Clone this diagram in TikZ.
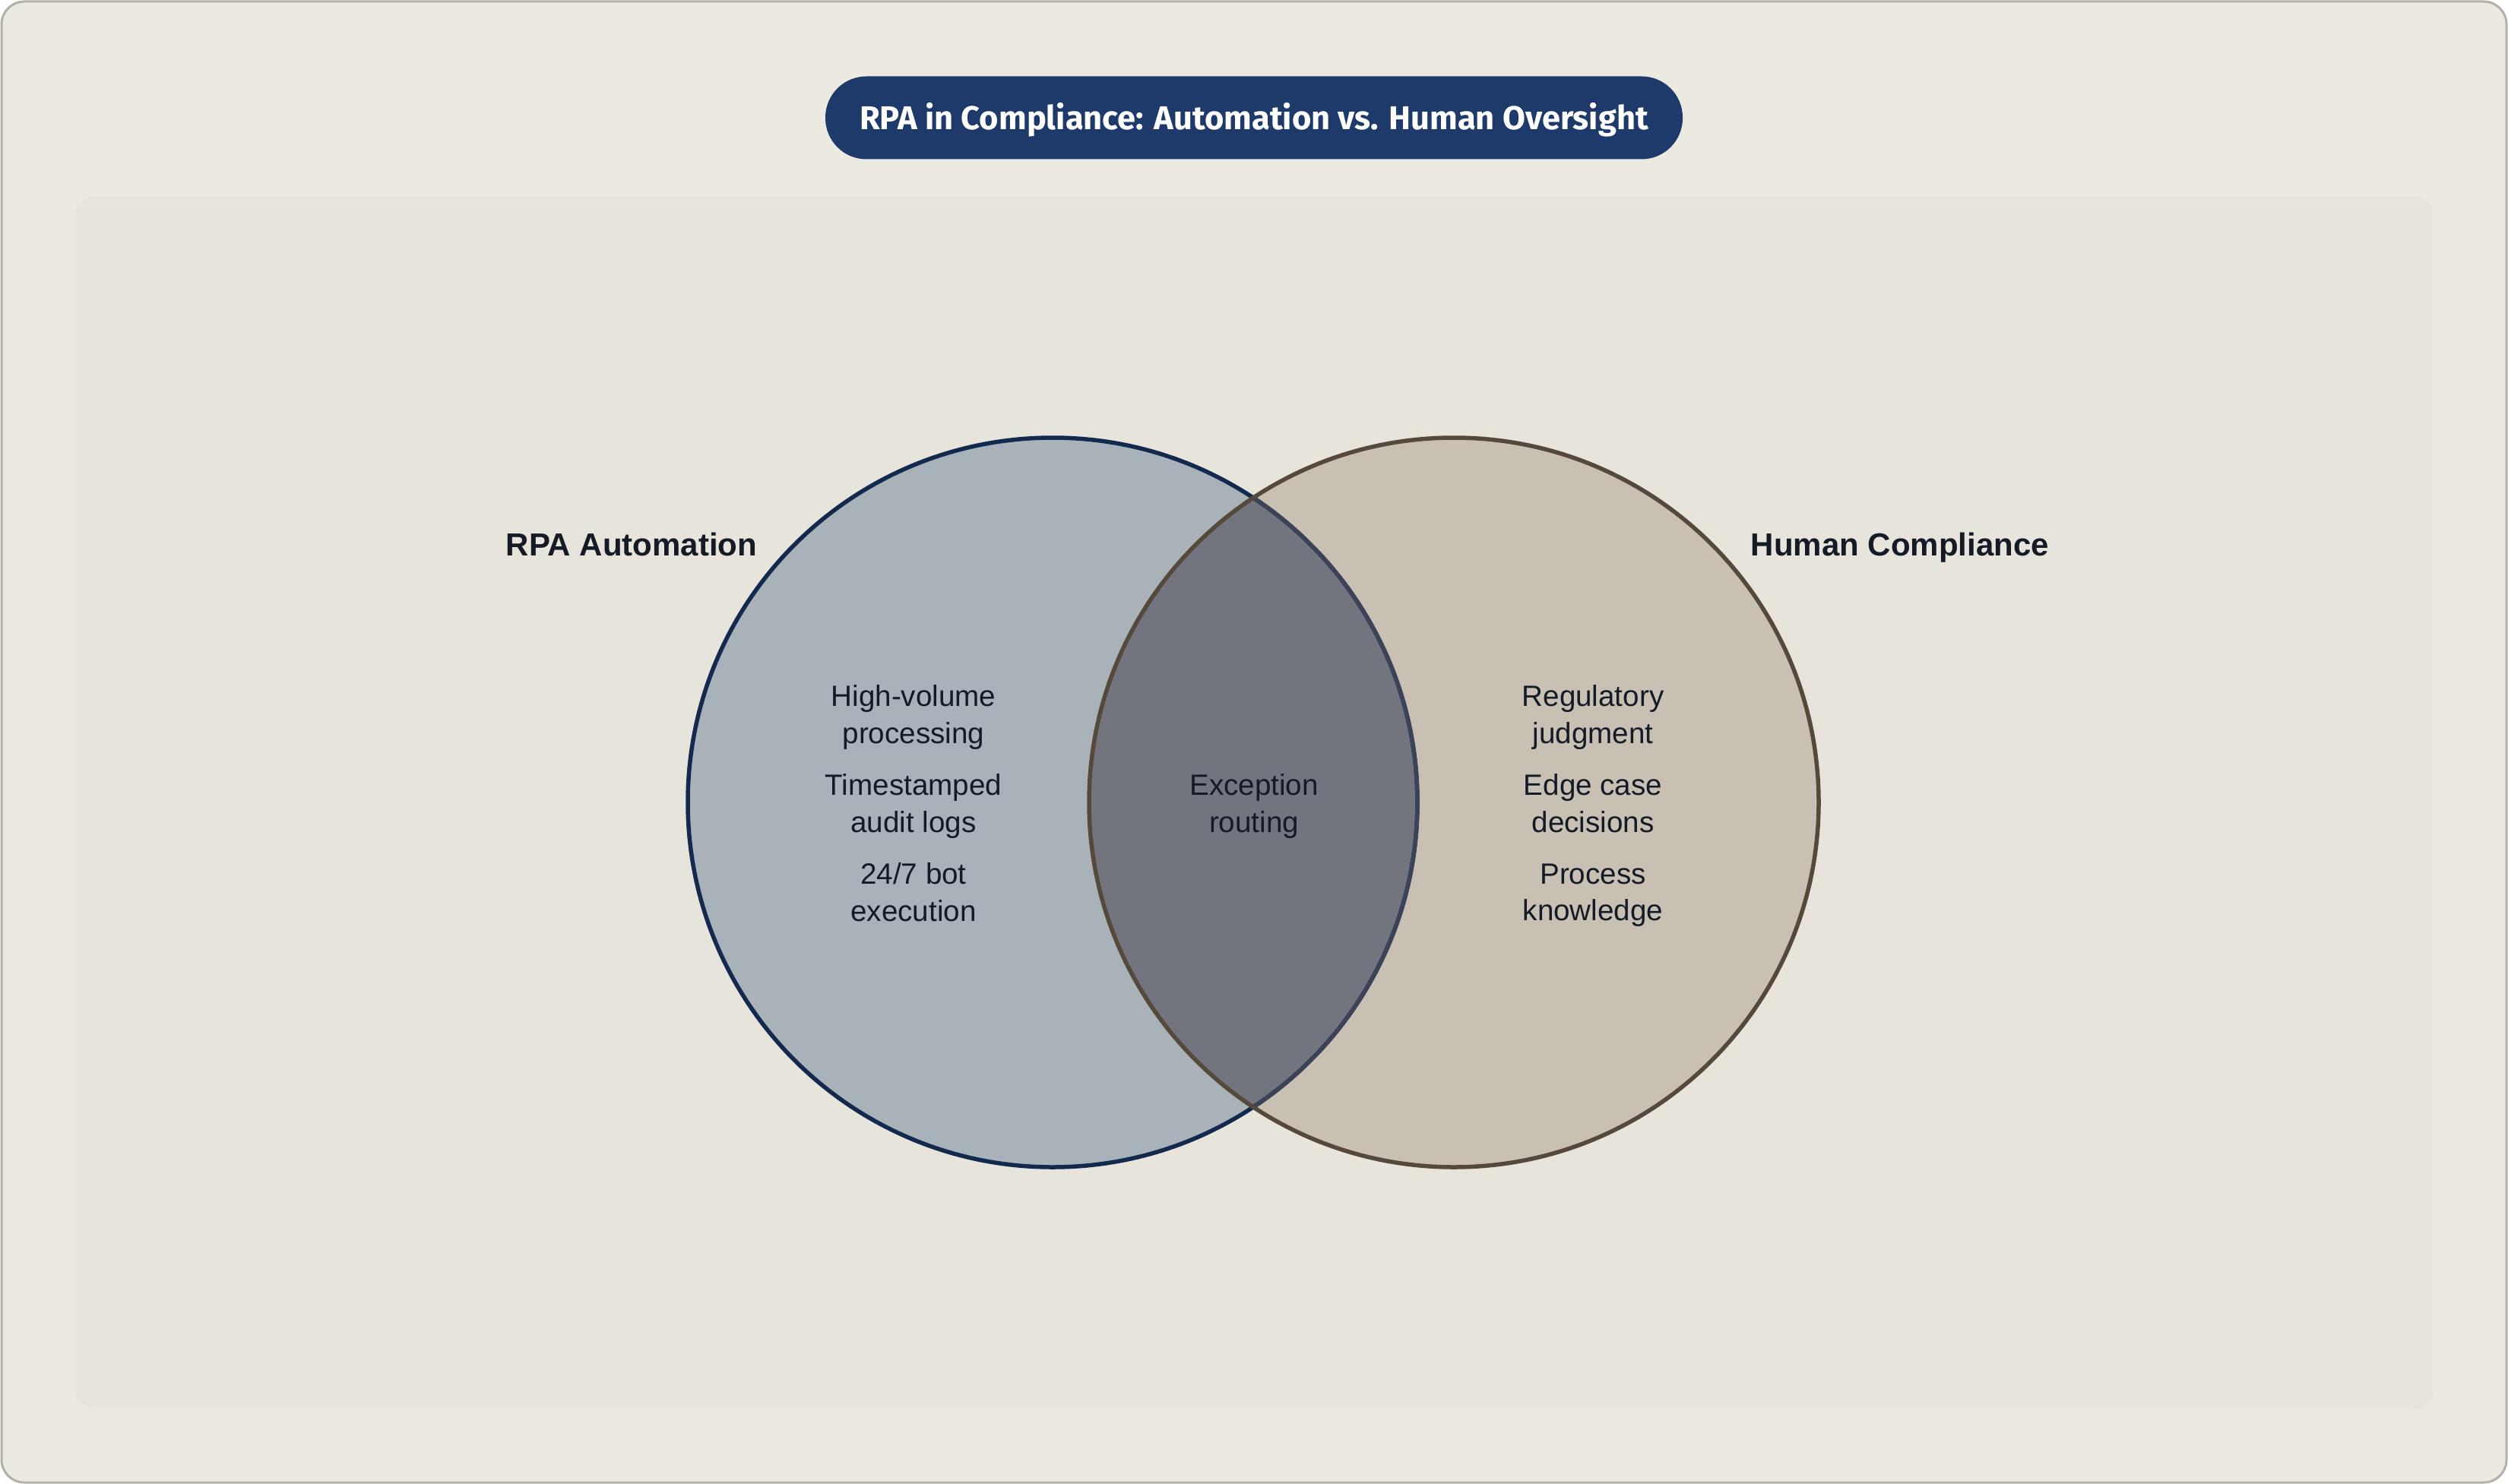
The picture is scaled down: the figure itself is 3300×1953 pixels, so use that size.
\documentclass[tikz,border=0pt]{standalone}
\usepackage{fontspec}
\setmainfont{Liberation Sans}
\newfontfamily\titlefont{Fira Sans}
\definecolor{outerbg}{HTML}{ECE9E1}
\definecolor{outerline}{HTML}{B3B1AB}
\definecolor{panelbg}{HTML}{E7E4DC}
\definecolor{pillc}{HTML}{1D3A6B}
\definecolor{leftfill}{HTML}{A9B1B9}
\definecolor{rightfill}{HTML}{C7C0B3}
\definecolor{lensfill}{HTML}{72757E}
\definecolor{navy}{HTML}{132A4E}
\definecolor{brownc}{HTML}{54493A}
\definecolor{navymix}{HTML}{3A4358}
\definecolor{textc}{HTML}{141A26}
\tikzset{
  bodytext/.style={align=center, text=textc, font=\fontsize{38.6}{48.4}\selectfont, inner sep=0pt},
  setlabel/.style={text=textc, font=\fontsize{42}{48}\selectfont\bfseries, inner sep=0pt, anchor=base},
  titlepill/.style={fill=pillc, rounded corners=54pt, minimum width=1128pt, minimum height=109pt, text=white, font=\titlefont\fontsize{43.4}{50}\selectfont\bfseries, inner sep=0pt},
}
\begin{document}
\begin{tikzpicture}[x=1pt,y=-1pt]
\useasboundingbox (0,0) rectangle (3300,1953);
% outer card
\draw[fill=outerbg, draw=outerline, line width=3pt, rounded corners=30pt] (2,2) rectangle (3298,1951);
% inner panel
\fill[panelbg, rounded corners=24pt] (99,259) rectangle (3201,1854);
% title
\node[titlepill] (title) at (1650,155) {};
\node[text=white, font=\titlefont\fontsize{43.4}{50}\selectfont\bfseries, inner sep=0pt] (titletext) at (1650,158) {RPA in Compliance: Automation vs. Human Oversight};
% circles
\coordinate (cl) at (1385,1056);
\coordinate (cr) at (1913,1056);
\fill[leftfill] (cl) circle (480);
\fill[rightfill] (cr) circle (480);
\begin{scope}
  \clip (cl) circle (480);
  \fill[lensfill] (cr) circle (480);
\end{scope}
\draw[navy, line width=5.5pt] (cl) circle (480);
\begin{scope}
  \clip (cr) circle (480);
  \draw[navymix, line width=5.5pt] (cl) circle (480);
\end{scope}
\draw[brownc, line width=5.5pt] (cr) circle (480);
% set labels
\node[setlabel] (lblL) at (831,731) {RPA Automation};
\node[setlabel] (lblR) at (2500,731) {Human Compliance};
% left items
\node[bodytext] (l1) at (1202,944) {High-volume\\processing};
\node[bodytext] (l2) at (1202,1061) {Timestamped\\audit logs};
\node[bodytext] (l3) at (1202,1174) {24/7 bot\\execution};
% center
\node[bodytext] (c1) at (1650,1061) {Exception\\routing};
% right items
\node[bodytext] (r1) at (2096,944) {Regulatory\\judgment};
\node[bodytext] (r2) at (2096,1057) {Edge case\\decisions};
\node[bodytext] (r3) at (2096,1178) {Process\\knowledge};
\end{tikzpicture}
\end{document}
